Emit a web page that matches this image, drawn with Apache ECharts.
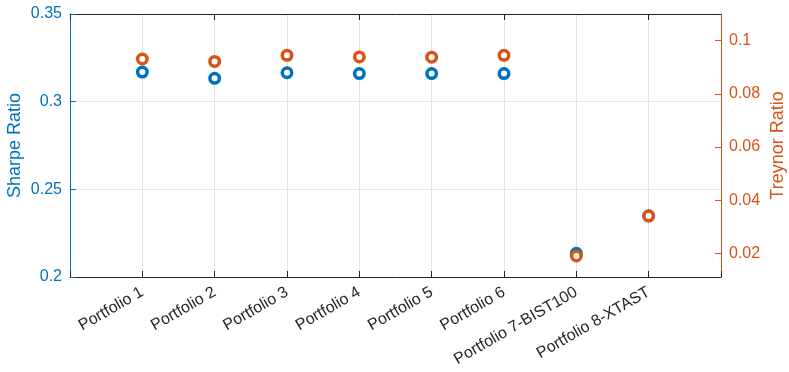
<!DOCTYPE html>
<html>
<head>
<meta charset="utf-8">
<script src="https://cdn.jsdelivr.net/npm/echarts@6/dist/echarts.min.js"></script>
<style>html,body{margin:0;padding:0;background:#fff}#c{width:789px;height:372px}</style>
</head>
<body>
<div id="c"></div>
<script>
const categories = ['Portfolio 1','Portfolio 2','Portfolio 3','Portfolio 4','Portfolio 5','Portfolio 6','Portfolio 7-BIST100','Portfolio 8-XTAST'];
const sharpe = [0.3169, 0.3133, 0.3165, 0.3160, 0.3160, 0.3160, 0.2135, 0.2349];
const treynor = [0.0931, 0.0922, 0.0945, 0.0939, 0.0938, 0.0945, 0.0190, 0.0340];
const rightTicks = [0.02, 0.04, 0.06, 0.08, 0.1];

const xData = [''].concat(categories, ['']);
const FONT = 'Liberation Sans, Arial, Helvetica, sans-serif';
const BLUE = '#0072BD', ORANGE = '#D95319', DARK = '#262626';

const chart = echarts.init(document.getElementById('c'), null, {renderer: 'canvas'});
chart.setOption({
  animation: false,
  textStyle: {fontFamily: FONT},
  grid: {left: 70, right: 68, top: 14, bottom: 95, containLabel: false, outerBoundsMode: 'none'},
  xAxis: [{
    type: 'category', data: xData, boundaryGap: false, position: 'bottom',
    axisLine: {show: true, lineStyle: {color: DARK, width: 1}},
    axisTick: {show: true, inside: true, length: 6, lineStyle: {color: DARK}},
    axisLabel: {rotate: 30, fontSize: 16, color: DARK, fontFamily: FONT, margin: 14, interval: 0},
    splitLine: {show: true, lineStyle: {color: '#e3e3e3', width: 1}}
  }, {
    type: 'category', data: xData, boundaryGap: false, position: 'top',
    axisLine: {show: true, lineStyle: {color: DARK, width: 1}},
    axisTick: {show: true, inside: true, length: 6, lineStyle: {color: DARK}},
    axisLabel: {show: false}, splitLine: {show: false}
  }],
  yAxis: [{
    type: 'value', position: 'left', min: 0.2, max: 0.35, interval: 0.05,
    name: 'Sharpe Ratio', nameLocation: 'middle', nameGap: 46, nameRotate: 90, nameMoveOverlap: false,
    nameTextStyle: {color: BLUE, fontSize: 18, fontFamily: FONT},
    axisLine: {show: true, lineStyle: {color: BLUE, width: 1}},
    axisTick: {show: true, inside: true, length: 6, lineStyle: {color: BLUE}},
    axisLabel: {color: BLUE, fontSize: 16, fontFamily: FONT, margin: 8},
    splitLine: {show: true, lineStyle: {color: '#dde6ef', width: 1}}
  }, {
    type: 'value', position: 'right', min: 0.01109, max: 0.11003,
    name: 'Treynor Ratio', nameLocation: 'middle', nameGap: 48, nameRotate: 90, nameMoveOverlap: false,
    nameTextStyle: {color: ORANGE, fontSize: 18, fontFamily: FONT},
    axisLine: {show: true, lineStyle: {color: ORANGE, width: 1}},
    axisTick: {show: true, inside: true, length: 6, lineStyle: {color: ORANGE}, customValues: rightTicks},
    axisLabel: {color: ORANGE, fontSize: 16, fontFamily: FONT, margin: 8, customValues: rightTicks,
      formatter: v => String(+v.toFixed(2))},
    splitLine: {show: false}
  }],
  series: [{
    type: 'scatter', xAxisIndex: 0, yAxisIndex: 0,
    data: sharpe.map((v, i) => [i + 1, v]),
    symbol: 'circle', symbolSize: 9.5,
    itemStyle: {color: '#ffffff', borderColor: BLUE, borderWidth: 3.5, opacity: 1}
  }, {
    type: 'scatter', xAxisIndex: 0, yAxisIndex: 1,
    data: treynor.map((v, i) => [i + 1, v]),
    symbol: 'circle', symbolSize: 9.5,
    itemStyle: {color: '#ffffff', borderColor: ORANGE, borderWidth: 3.5, opacity: 1}
  }]
});
</script>
</body>
</html>
